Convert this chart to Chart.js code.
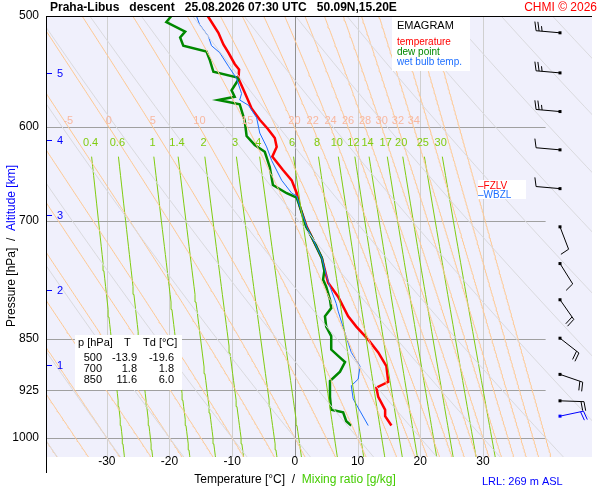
<!DOCTYPE html>
<html><head><meta charset="utf-8">
<script src="https://cdn.jsdelivr.net/npm/chart.js@4"></script>
<style>html,body{margin:0;padding:0;background:#fff}canvas{display:block}</style>
</head><body>
<canvas id="c" width="600" height="500"></canvas>
<script>
// ---- sounding data ----
const tempP = [500,514,524,531,541,546,554,567,582,593,602,611,620,630,644,655,669,684,707,722,744,775,793,819,833,851,869,889,912,921,935,955,965,980];
const tempT = [-13.9,-12.2,-11.4,-10.6,-9.6,-8.9,-9.0,-8.0,-6.9,-5.6,-4.3,-3.2,-2.9,-3.6,-1.9,-0.5,0.3,0.8,1.9,2.9,4.3,5.3,6.9,8.5,9.8,11.7,13.3,14.6,14.9,13.0,13.3,14.4,14.4,15.4];
const dewP = [500,505,513,518,525,530,537,548,553,555,565,571,574,578,594,609,618,625,641,660,669,674,684,707,722,744,760,771,780,797,808,819,833,846,865,874,883,897,911,935,955,959,973,980];
const dewT = [-19.7,-20.5,-17.5,-18.3,-17.8,-14.1,-13.6,-13.0,-9.3,-9.0,-10.1,-9.6,-12.2,-8.8,-8.0,-7.7,-6.4,-4.8,-4.0,-3.5,-1.3,0.3,0.8,1.8,2.9,4.3,4.7,4.5,5.0,5.6,5.8,4.8,5.0,5.8,5.8,6.9,8.0,7.2,5.6,5.6,5.8,7.7,8.2,9.0];
const wbP = [500,507,517,525,531,543,554,568,574,579,591,606,620,634,655,669,672,684,707,722,744,765,780,802,812,842,869,889,908,918,938,957,980];
const wbT = [-15.7,-15.2,-13.8,-13.3,-12.0,-10.6,-9.3,-8.5,-8.8,-7.4,-6.1,-5.6,-4.5,-3.7,-2.1,-0.5,0.3,0.8,1.9,2.9,4.3,5.0,5.6,6.6,6.9,8.0,9.0,10.4,10.1,9.0,9.3,10.4,11.7];
// wind barbs
const windP = [514,549,585,623,664,707,751,797,849,901,941,965];
const windDir = [275,275,275,275,275,159,148,145,128,109,92,78];
const windKt = [25,25,25,10,10,10,10,20,20,20,20,20];
const windBlue = [false,false,false,false,false,false,false,false,false,false,false,true];
// table
const tabP = ['500','700','850'];
const tabT = ['-13.9','1.8','11.6'];
const tabTd = ['-19.6','1.8','6.0'];
// axis labels
const pLevels = [500,600,700,850,925,1000];
const tLabels = [-30,-20,-10,0,10,20,30];
const altKm = [5,4,3,2,1];
const altP = [549,613,693,784,887];
// background isopleth parameters
const mixR = [0.4,0.6,1,1.4,2,3,4,6,8,10,12,14,17,20,25,30];
const moistW = [-40,-35,-30,-25,-20,-15,-10,-5,0,5,10,15,18,20,22,24,26,28,30,32,34,36,38,40];
const moistLab = [-5,0,5,10,15,20,22,24,26,28,30,32,34];
const dryTh = [];
for (let th=-60; th<=180; th+=10) dryTh.push(th);

// ---- physics for isopleths ----
function esat(T){return 6.112*Math.exp(17.67*T/(T+243.5));}
function tdFromMix(w,p){const e=w*p/(622+w);const l=Math.log(e/6.112);return 243.5*l/(17.67-l);}
function moistLine(tw){
  const pts=[];const Rd=287,cp=1004,Lv=2.5e6,eps=0.622;
  function step(T,p,dp){const Tk=T+273.15;const rs=eps*esat(T)/(p-esat(T));
    const dTdp=(Rd*Tk+Lv*rs)/(cp+Lv*Lv*rs*eps/(Rd*Tk*Tk))/p; return T+dTdp*dp;}
  let T=tw,p=1000;
  while(p<1040){T=step(T,p,2);p+=2;}
  pts.push({x:T,y:1040});
  while(p>480){T=step(T,p,-2);p-=2;pts.push({x:T,y:p});}
  return pts;
}
function dryLine(th){const pts=[];for(let p=1040;p>=480;p-=20)pts.push({x:(th+273.15)*Math.pow(p/1000,0.286)-273.15,y:p});return pts;}
function mixLine(w){const pts=[];for(let p=1040;p>=630;p-=10)pts.push({x:tdFromMix(w,p),y:p});return pts;}

const ds=[];
dryTh.forEach(t=>ds.push({data:dryLine(t),borderColor:'#dadade',borderWidth:1}));
moistW.forEach(t=>ds.push({data:moistLine(t),borderColor:'#ffc890',borderWidth:1}));
mixR.forEach(w=>ds.push({data:mixLine(w),borderColor:'#80cc10',borderWidth:1}));
const mk=(P,T)=>P.map((p,i)=>({x:T[i],y:p}));
ds.push({data:mk(wbP,wbT),borderColor:'#1e6fff',borderWidth:1});
ds.push({data:mk(dewP,dewT),borderColor:'#008800',borderWidth:2.5});
ds.push({data:mk(tempP,tempT),borderColor:'#ff0000',borderWidth:2.5});
ds.forEach(d=>{d.showLine=true;d.pointRadius=0;d.fill=false;d.tension=0;});

const F='Arial, "Liberation Sans", sans-serif';
const under={id:'under',beforeDatasetsDraw(ch){
  const c=ch.ctx,a=ch.chartArea,x=ch.scales.x,y=ch.scales.y;
  c.save();
  c.fillStyle='#f0f0fc';c.fillRect(a.left,a.top,a.right-a.left,a.bottom-a.top);
  tLabels.forEach(t=>{const px=Math.round(x.getPixelForValue(t))+0.5;c.strokeStyle=t===0?'#909090':'#d0d0d0';c.lineWidth=1;c.beginPath();c.moveTo(px,a.top);c.lineTo(px,a.bottom);c.stroke();});
  const xr=x.getPixelForValue(40);
  pLevels.forEach(p=>{const py=Math.round(y.getPixelForValue(p))+0.5;c.strokeStyle='#a0a0a0';c.beginPath();c.moveTo(a.left,py);c.lineTo(xr,py);c.stroke();});
  c.restore();
},afterDatasetsDraw(ch){
  const c=ch.ctx,a=ch.chartArea,x=ch.scales.x,y=ch.scales.y;
  c.save();
  c.font='11px '+F;c.textAlign='center';c.textBaseline='middle';
  c.fillStyle='#f8b8a0';
  moistLab.forEach(t=>{const l=moistLine(t);let q=l.reduce((b,pt)=>Math.abs(pt.y-600)<Math.abs(b.y-600)?pt:b);
    c.fillText(String(t),x.getPixelForValue(q.x),y.getPixelForValue(600)-6);});
  c.fillStyle='#80cc10';
  mixR.forEach(w=>{c.fillText(String(w),x.getPixelForValue(tdFromMix(w,620)),y.getPixelForValue(600)+16);});
  c.strokeStyle='#000';c.lineWidth=1;c.beginPath();c.moveTo(a.left+0.5,a.top);c.lineTo(a.left+0.5,473);c.moveTo(a.left,a.top+0.5);c.lineTo(a.right,a.top+0.5);c.stroke();
  c.fillStyle='#000';c.font='12px '+F;c.textAlign='right';
  pLevels.forEach(p=>c.fillText(String(p),39,y.getPixelForValue(p)));
  c.textAlign='center';
  tLabels.forEach(t=>c.fillText(String(t),x.getPixelForValue(t),462));
  c.strokeStyle='#0000ff';c.fillStyle='#0000ff';c.font='11px '+F;c.textAlign='left';
  altKm.forEach((k,i)=>{const py=Math.round(y.getPixelForValue(altP[i]))+0.5;c.beginPath();c.moveTo(47,py);c.lineTo(52,py);c.stroke();c.fillText(String(k),57,py);});
  c.save();c.translate(12,246);c.rotate(-Math.PI/2);c.font='12px '+F;c.textAlign='left';
  const s1='Pressure [hPa]  /  ';const w1=c.measureText(s1).width;const s2='Altitude [km]';const w2=c.measureText(s2).width;
  c.fillStyle='#000';c.fillText(s1,-(w1+w2)/2,0);c.fillStyle='#0000ff';c.fillText(s2,-(w1+w2)/2+w1,0);c.restore();
  c.font='12px '+F;c.textAlign='left';const x1='Temperature [°C]  /  ',x2='Mixing ratio [g/kg]';
  const xw1=c.measureText(x1).width,xw2=c.measureText(x2).width;const sx=295-(xw1+xw2)/2;
  c.fillStyle='#000';c.fillText(x1,sx,480);c.fillStyle='#44cc00';c.fillText(x2,sx+xw1,480);
  c.fillStyle='#0000ff';c.font='11px '+F;c.fillText('LRL: 269 m ASL',482,482);
  c.fillStyle='#000';c.font='bold 12px '+F;c.fillText('Praha-Libus   descent   25.08.2026 07:30 UTC   50.09N,15.20E',50,8);
  c.fillStyle='#ff0000';c.font='12px '+F;c.textAlign='right';c.fillText('CHMI © 2026',597,8);
  c.fillStyle='#fff';c.fillRect(392,17,78,54);
  c.textAlign='left';c.font='11px '+F;c.fillStyle='#000';c.fillText('EMAGRAM',397,26);
  c.font='10px '+F;c.fillStyle='#ff0000';c.fillText('temperature',397,42);c.fillStyle='#008800';c.fillText('dew point',397,52);c.fillStyle='#1e6fff';c.fillText('wet bulb temp.',397,62);
  c.fillStyle='#fff';c.fillRect(478,180,48,19);
  c.font='10px '+F;c.fillStyle='#ff0000';c.fillText('–FZLV',478,186);c.fillStyle='#1e6fff';c.fillText('–WBZL',478,195);
  c.fillStyle='#fff';c.fillRect(75,335,107,55);
  c.fillStyle='#000';c.font='11px '+F;c.textAlign='left';c.fillText('p [hPa]',78,343);c.fillText('T',124,343);c.fillText('Td [°C]',143,343);
  c.textAlign='right';
  tabP.forEach((p,i)=>{const yy=358+i*11;c.fillText(p,102,yy);c.fillText(tabT[i],137,yy);c.fillText(tabTd[i],174,yy);});
  windP.forEach((p,i)=>{const col=windBlue[i]?'#0000ff':'#000';c.strokeStyle=col;c.fillStyle=col;c.lineWidth=1;
    const ox=560,oy=y.getPixelForValue(p);const r=windDir[i]*Math.PI/180;const dx=Math.sin(r),dy=-Math.cos(r);
    const L=24,ex=ox+dx*L,ey=oy+dy*L;c.fillRect(ox-1.5,oy-1.5,3,3);
    c.beginPath();c.moveTo(ox,oy);c.lineTo(ex,ey);
    const px=-dy,py=dx;
    let s=windKt[i],pos=0;
    while(s>=10){const bx=ex-dx*pos,by=ey-dy*pos;c.moveTo(bx,by);c.lineTo(bx+px*9+dx*2,by+py*9+dy*2);pos+=3;s-=10;}
    if(s>=5){const bx=ex-dx*pos,by=ey-dy*pos;c.moveTo(bx,by);c.lineTo(bx+px*5+dx*1,by+py*5+dy*1);}
    c.stroke();});
  c.restore();
}};

new Chart(document.getElementById('c'),{type:'scatter',data:{datasets:ds},
  options:{responsive:false,animation:false,devicePixelRatio:1,
    layout:{padding:{left:46,right:8,top:16,bottom:43}},
    plugins:{legend:{display:false},tooltip:{enabled:false}},
    scales:{x:{type:'linear',min:-39.7,max:47.4,display:false},
      y:{type:'logarithmic',reverse:true,min:500,max:1032,display:false}}},
  plugins:[under]});
</script>
</body></html>
